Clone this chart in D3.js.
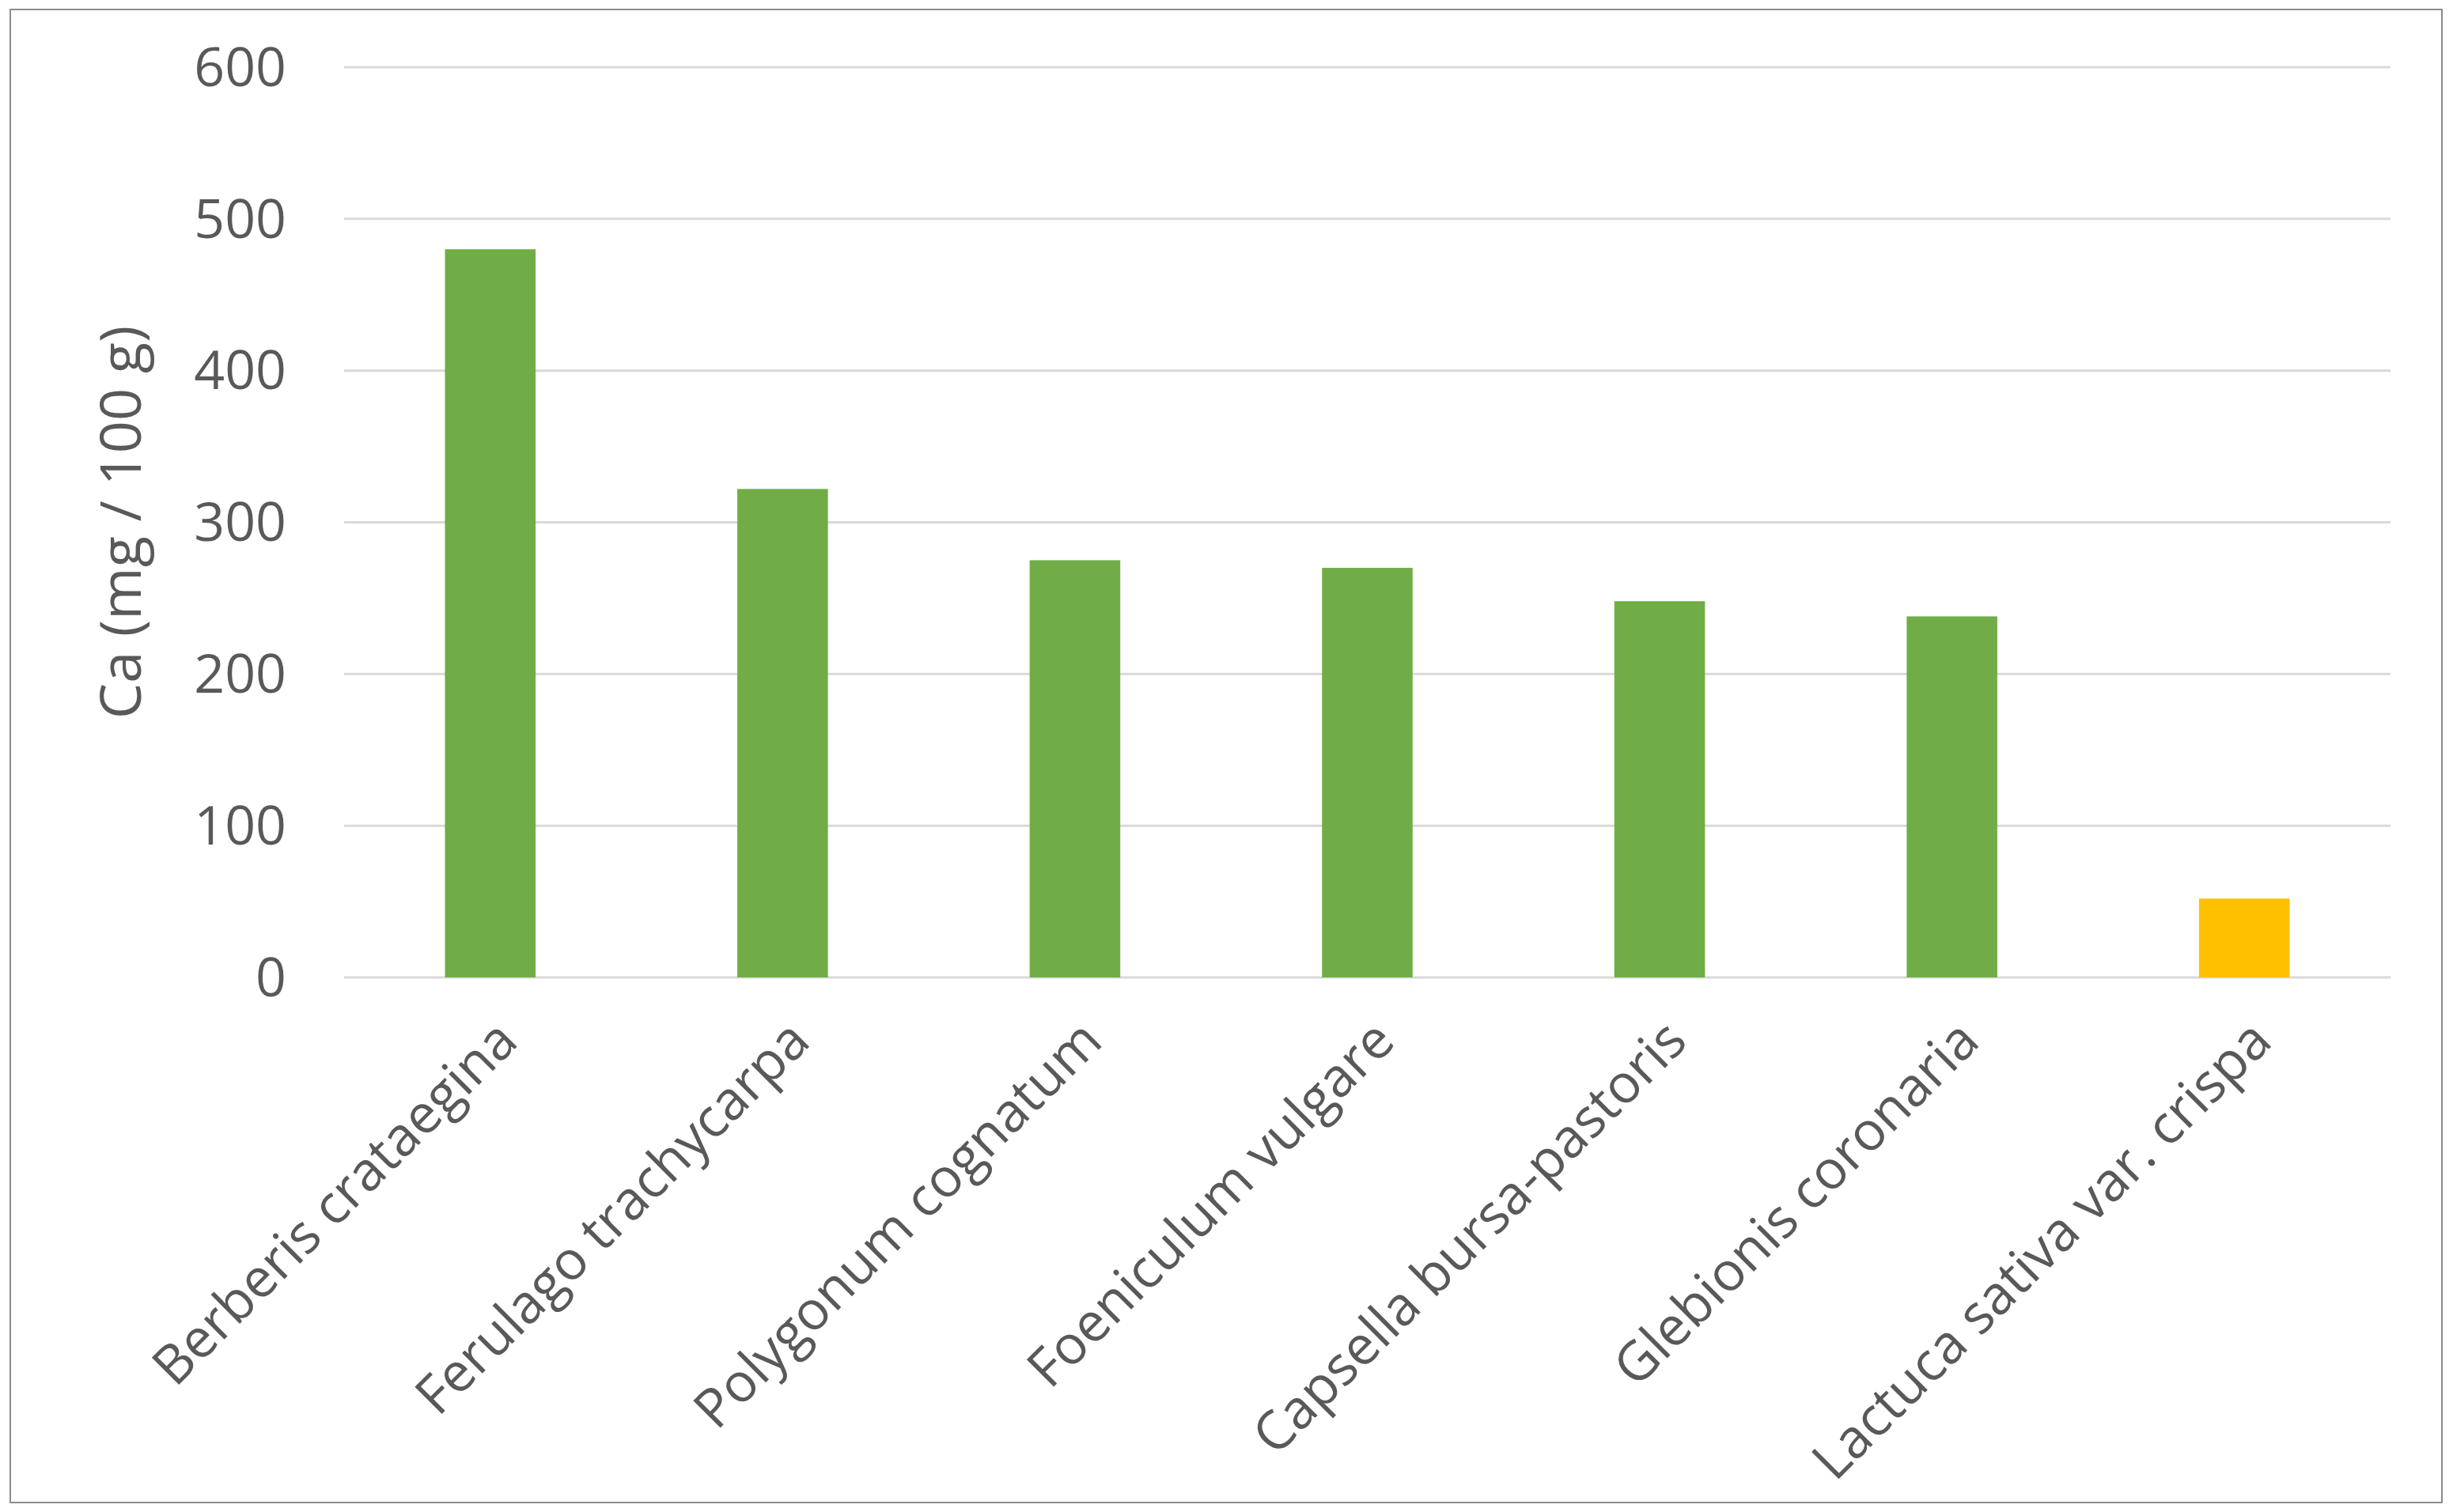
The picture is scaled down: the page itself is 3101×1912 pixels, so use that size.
<!DOCTYPE html>
<html><head><meta charset="utf-8">
<script src="https://cdn.jsdelivr.net/npm/d3@7/dist/d3.min.js"></script>
<style>body{margin:0;background:#fff}</style></head>
<body><svg id="c" width="3101" height="1912"></svg>
<script>
const categories=["Berberis crataegina","Ferulago trachycarpa","Polygonum cognatum","Foeniculum vulgare","Capsella bursa-pastoris","Glebionis coronaria","Lactuca sativa var. crispa"];
const values=[480,322,275,270,248,238,52];
const barColors=["#70AD47","#70AD47","#70AD47","#70AD47","#70AD47","#70AD47","#FFC000"];
const yTicks=[0,100,200,300,400,500,600];
const yTitle="Ca (mg / 100 g)";

const svg=d3.select("#c");
const F="'Open Sans', sans-serif", tc="#595959";
svg.append("rect").attr("x",13).attr("y",12).attr("width",3074).attr("height",1888).attr("fill","none").attr("stroke","#8c8c8c").attr("stroke-width",2);
const L=435,R=3022,T=85,B=1236;
const x=d3.scaleBand().domain(categories).range([L,R]).paddingInner(0.69).paddingOuter(0.345);
const y=d3.scaleLinear().domain([0,600]).range([B,T]);
const g=svg.append("g");
g.selectAll("line.grid").data(yTicks).join("line").attr("x1",L).attr("x2",R)
 .attr("y1",d=>y(d)).attr("y2",d=>y(d)).attr("stroke","#D9D9D9").attr("stroke-width",3);
g.selectAll("text.yt").data(yTicks).join("text").attr("x",362).attr("y",d=>y(d)).attr("dy","0.35em")
 .attr("text-anchor","end").attr("font-family",F).attr("font-size",68).attr("fill",tc).text(d=>d);
g.selectAll("rect.bar").data(values).join("rect").attr("x",(d,i)=>x(categories[i])).attr("width",x.bandwidth())
 .attr("y",d=>y(d)).attr("height",d=>B-y(d)).attr("fill",(d,i)=>barColors[i]);
g.selectAll("text.xl").data(categories).join("text")
 .attr("transform",d=>`translate(${x(d)+x.bandwidth()/2+4},${B+50}) rotate(-45)`)
 .attr("text-anchor","end").attr("dy","0.7em").attr("font-family",F).attr("font-size",68).attr("fill",tc).text(d=>d);
svg.append("text").attr("transform",`translate(178,${(T+B)/2}) rotate(-90)`).attr("text-anchor","middle")
 .attr("font-family",F).attr("font-size",72).attr("fill",tc).text(yTitle);
</script></body></html>
